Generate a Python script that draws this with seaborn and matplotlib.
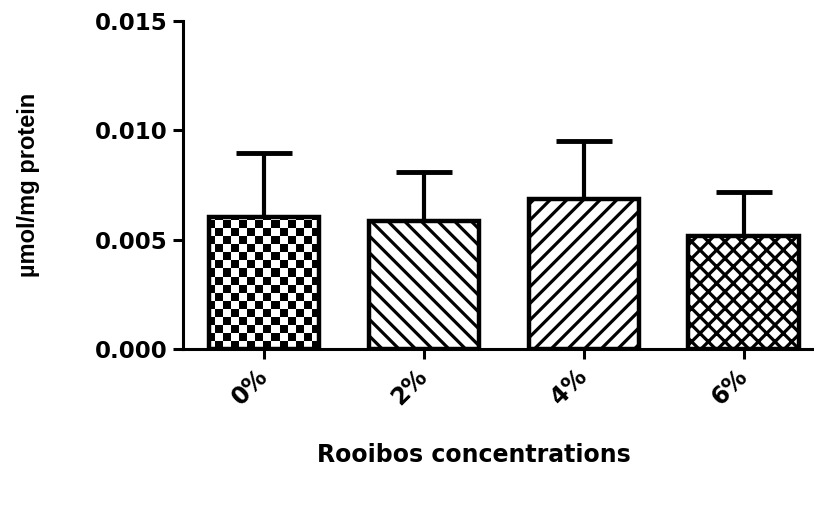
import numpy as np
import pandas as pd
import matplotlib
matplotlib.use('Agg')
import matplotlib.pyplot as plt
import seaborn as sns

# Значения
concentrations = ['0%', '2%', '4%', '6%']
means = [0.00604, 0.00585, 0.00686, 0.00517]
sd_upper = [0.00292, 0.00224, 0.00265, 0.00201]
hatches = [None, '\\\\', '//', 'xx']

sns.set_style('ticks')
plt.rcParams['font.family'] = ['DejaVu Sans']
plt.rcParams['hatch.linewidth'] = 2.3
plt.rcParams['hatch.color'] = 'black'
plt.rcParams['text.color'] = 'black'
plt.rcParams['xtick.color'] = 'black'
plt.rcParams['ytick.color'] = 'black'
plt.rcParams['axes.labelcolor'] = 'black'
plt.rcParams['axes.edgecolor'] = 'black'

df = pd.DataFrame({'conc': concentrations, 'value': means})

fig = plt.figure(figsize=(8.14, 5.13), dpi=100)
ax = fig.add_axes([183 / 814, (513 - 349) / 513, 631 / 814, 328 / 513])

sns.barplot(data=df, x='conc', y='value', color='white', width=0.69,
            edgecolor='black', linewidth=3.2, errorbar=None, ax=ax, zorder=2)

# Планки погрешностей (только вверх)
ax.errorbar(np.arange(len(means)), means, yerr=[np.zeros(len(means)), sd_upper],
            fmt='none', ecolor='black', elinewidth=3, capsize=20, capthick=3.5, zorder=1)

xlim = (-0.506, 3.44)
ax.set_xlim(*xlim)
ax.set_ylim(0, 0.015)

# Штриховка
for bar, h in zip(ax.patches, hatches):
    if h is not None:
        bar.set_hatch(h)

# Шахматная заливка для 0%
bar0 = ax.patches[0]
bar0.set_facecolor('none')
checker = np.indices((41, 79)).sum(axis=0) % 2
im = ax.imshow(checker, cmap='gray', extent=(xlim[0], xlim[1], 0, 0.015), aspect='auto',
               interpolation='nearest', zorder=1.5, origin='lower')
im.set_clip_path(bar0)
ax.set_xlim(*xlim)
ax.set_ylim(0, 0.015)

ax.set_yticks([0, 0.005, 0.010, 0.015])
ax.set_yticklabels(['0.000', '0.005', '0.010', '0.015'])
for s in ['top', 'right']:
    ax.spines[s].set_visible(False)
for s in ['left', 'bottom']:
    ax.spines[s].set_linewidth(2.2)
ax.tick_params(axis='both', width=2.2, length=7, labelsize=16.5, pad=4)
for lab in ax.get_yticklabels():
    lab.set_fontweight('bold')
for lab in ax.get_xticklabels():
    lab.set_fontweight('bold')
    lab.set_fontsize(17)
    lab.set_rotation(45)
    lab.set_ha('right')
    lab.set_va('center')
    lab.set_rotation_mode('anchor')
ax.tick_params(axis='x', pad=10)

ax.set_xlabel('Rooibos concentrations', fontsize=17, fontweight='bold', va='center')
ax.set_ylabel('µmol/mg protein', fontsize=17, fontweight='bold', family='Liberation Sans',
              va='center', ha='center')
ax.xaxis.set_label_coords(0.461, -0.323)
ax.yaxis.set_label_coords(-0.2456, 0.5)

fig.savefig('out.png', dpi=100)
